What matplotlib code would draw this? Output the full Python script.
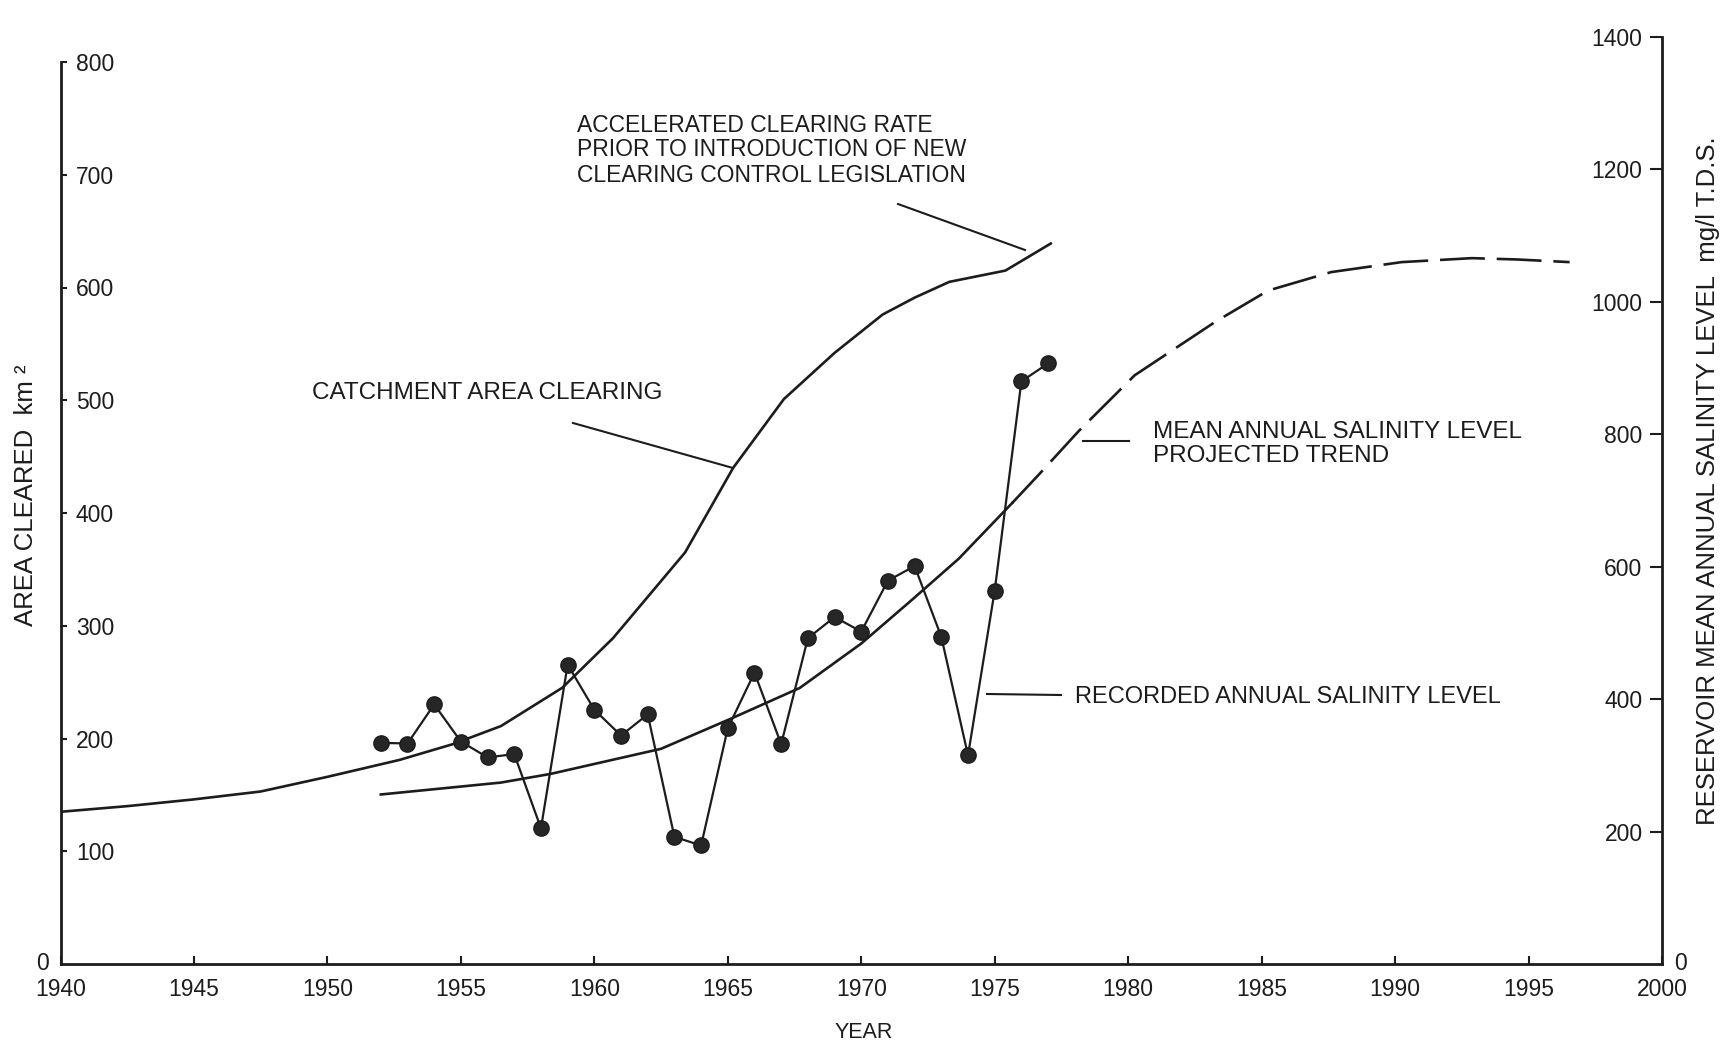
import matplotlib
matplotlib.use('Agg')
import matplotlib.pyplot as plt
from matplotlib.lines import Line2D

plt.rcParams['font.family'] = ['Liberation Sans', 'DejaVu Sans']

INK = '#1c1c1c'
W_PX, H_PX = 1726, 1049

# catchment area cleared (left axis, km2)
clear_years = [1940, 1942.5, 1945, 1947.5, 1950, 1952.7, 1954.7, 1956.5, 1958.8, 1960.7,
               1963.4, 1965.2, 1967.1, 1969.0, 1970.8, 1972.0, 1973.3, 1975.4, 1977.1]
clear_area = [135, 140, 146, 153, 166, 181, 195, 211, 245, 289,
              365, 440, 501, 542, 576, 591, 605, 615, 639]

# recorded annual salinity (right axis, mg/l)
sal_years = list(range(1952, 1978))
sal_values = [334, 333, 392, 336, 312, 317, 205, 452, 384, 345, 377, 192, 179,
              356, 440, 332, 492, 524, 502, 579, 601, 494, 315, 564, 880, 907]

# mean annual salinity trend, fitted part and projection
trend_years = [1952.0, 1956.5, 1958.35, 1962.5, 1965.2, 1967.7, 1970.0, 1971.9, 1973.65, 1975.65]
trend_vals = [256, 274, 287, 325, 372, 417, 484, 550, 612, 696]
proj_years = [1975.65, 1976.65, 1978.15, 1980.24, 1983.27, 1985.24, 1987.61,
              1990.24, 1992.87, 1994.58, 1996.54]
proj_vals = [696, 739, 805, 889, 970, 1017, 1045, 1060, 1066, 1064, 1060]

year_ticks = list(range(1940, 2001, 5))
area_ticks = list(range(100, 801, 100))
sal_ticks = list(range(200, 1401, 200))


def fpx(x, y):
    """pixel position in the 1726x1049 picture -> figure fraction"""
    return x / W_PX, 1 - y / H_PX


fig = plt.figure(figsize=(W_PX / 100, H_PX / 100), dpi=100)
fig.patch.set_facecolor('white')

left, base, right, top = 60.5, 964, 1662, 37
ax = fig.add_axes([left / W_PX, (H_PX - base) / H_PX, (right - left) / W_PX, (base - top) / H_PX])
ax2 = ax.twinx()

ax.set_xlim(1940, 2000)
ax.set_ylim(0, 800 * (base - top) / 902)
ax2.set_ylim(0, 1400)

ax.plot(clear_years, clear_area, color=INK, lw=1.9)
ax2.plot(trend_years, trend_vals, color=INK, lw=1.9)
ax2.plot(proj_years, proj_vals, color=INK, lw=1.9, dashes=(17, 4.5))
ax2.plot(sal_years, sal_values, color=INK, lw=1.6, marker='o', markersize=11,
         markerfacecolor='#262626', markeredgecolor=INK)

for s in ['top', 'right']:
    ax.spines[s].set_visible(False)
for s in ['top', 'left', 'bottom']:
    ax2.spines[s].set_visible(False)
ax.spines['left'].set_bounds(0, 800)
for sp in [ax.spines['left'], ax.spines['bottom'], ax2.spines['right']]:
    sp.set_linewidth(2.0)
    sp.set_color(INK)

ax.set_xticks(year_ticks)
ax.set_xticklabels([str(y) for y in year_ticks])
ax.tick_params(axis='x', direction='in', length=6, width=1.5, pad=10,
               labelsize=16.5, colors=INK)

ax.set_yticks(area_ticks)
ax.set_yticklabels([str(v) for v in area_ticks])
ax.tick_params(axis='y', direction='in', length=4, width=1.5, pad=-11,
               labelsize=16.5, colors=INK)
for lbl in ax.get_yticklabels():
    lbl.set_horizontalalignment('left')

ax2.set_yticks(sal_ticks)
ax2.set_yticklabels([str(v) for v in sal_ticks])
ax2.tick_params(axis='y', direction='in', length=9, width=1.5, pad=-14,
                labelsize=16.5, colors=INK)
for lbl in ax2.get_yticklabels():
    lbl.set_horizontalalignment('right')

# zero labels sit outside the corners
fig.text(*fpx(42, 963), '0', ha='center', va='center', fontsize=16.5, color=INK)
fig.text(*fpx(1680, 964), '0', ha='center', va='center', fontsize=16.5, color=INK)

# axis titles
fig.text(*fpx(864, 1032), 'YEAR', ha='center', va='center', fontsize=15.5, color=INK)
fig.text(*fpx(26, 495), 'AREA CLEARED  km ²', rotation=90, ha='center', va='center',
         fontsize=18.5, color=INK)
fig.text(*fpx(1708, 481), 'RESERVOIR MEAN ANNUAL SALINITY LEVEL  mg/l T.D.S.', rotation=90,
         ha='center', va='center', fontsize=18.5, color=INK)

# annotations
accel = ['ACCELERATED CLEARING RATE', 'PRIOR TO INTRODUCTION OF NEW',
         'CLEARING CONTROL LEGISLATION']
for line, y in zip(accel, [126, 150, 175]):
    fig.text(*fpx(577, y), line, ha='left', va='center', fontsize=16.5, color=INK)
fig.text(*fpx(312, 393), 'CATCHMENT AREA CLEARING', ha='left', va='center',
         fontsize=17.5, color=INK)
fig.text(*fpx(1153, 432), 'MEAN ANNUAL SALINITY LEVEL', ha='left', va='center',
         fontsize=17.5, color=INK)
fig.text(*fpx(1153, 456), 'PROJECTED TREND', ha='left', va='center',
         fontsize=17.5, color=INK)
fig.text(*fpx(1075, 697), 'RECORDED ANNUAL SALINITY LEVEL', ha='left', va='center',
         fontsize=17, color=INK)

leaders = [((898, 204), (1025, 250)),
           ((573, 423), (733, 468)),
           ((1083, 441), (1129, 441)),
           ((987, 694), (1061, 695))]
for (x0, y0), (x1, y1) in leaders:
    a, b = fpx(x0, y0)
    c, d = fpx(x1, y1)
    fig.add_artist(Line2D([a, c], [b, d], color=INK, lw=1.5))

fig.savefig('out.png', dpi=100, facecolor='white')
